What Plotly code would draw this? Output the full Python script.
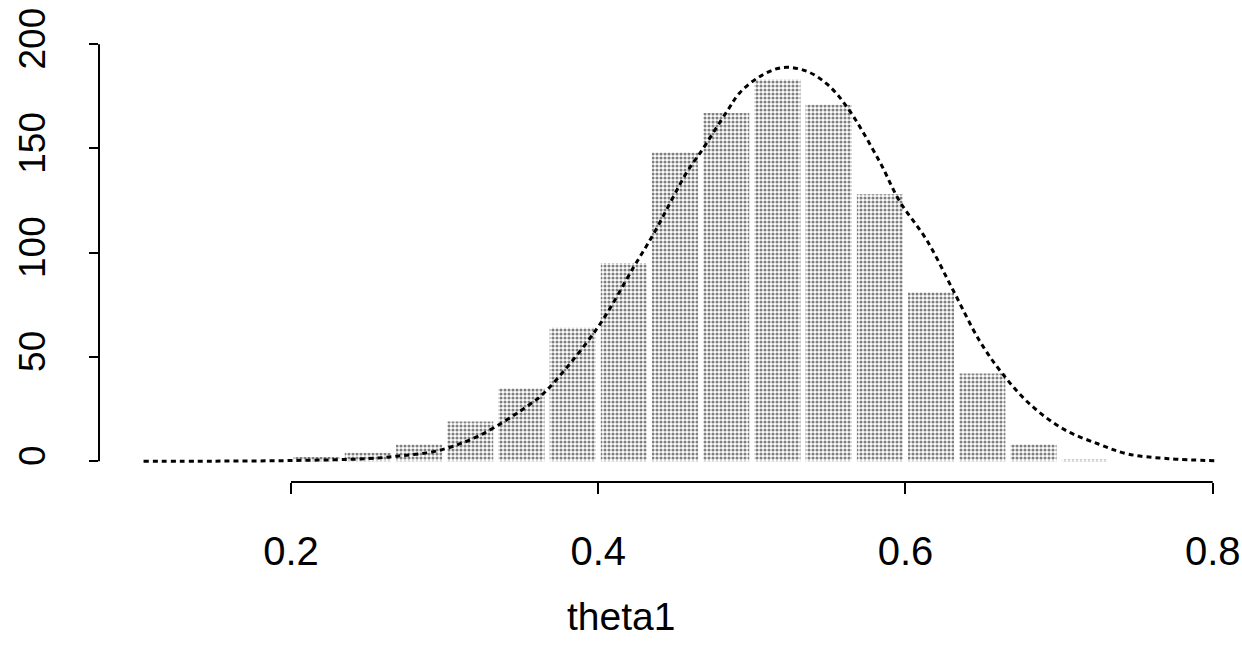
import plotly.graph_objects as go

# ---- data ----
bin_edges = [0.2, 0.2333, 0.2667, 0.3, 0.3333, 0.3667, 0.4, 0.4333, 0.4667,
             0.5, 0.5333, 0.5667, 0.6, 0.6333, 0.6667, 0.7, 0.7333]
counts = [2, 4, 8, 19, 35, 64, 95, 148, 167, 183, 171, 128, 81, 42, 8, 1]

curve_x = [0.104, 0.15, 0.2, 0.25, 0.269, 0.295, 0.323, 0.356, 0.365, 0.399,
           0.423, 0.436, 0.458, 0.4665, 0.484, 0.492, 0.505, 0.52, 0.5357,
           0.549, 0.562, 0.583, 0.596, 0.614, 0.631, 0.648, 0.662, 0.680,
           0.7025, 0.726, 0.745, 0.771, 0.803]
curve_y = [0, 0, 0.3, 1.2, 2.4, 4.9, 12.4, 27.5, 32.9, 63.4,
           93, 109, 139, 148, 168, 176.6, 184.4, 188.8, 187,
           180.8, 169.8, 143.9, 124.9, 105.8, 82, 58, 43, 28,
           15.5, 8.1, 3.4, 1.2, 0.2]

x_ticks = [0.2, 0.4, 0.6, 0.8]
y_ticks = [0, 50, 100, 150, 200]
x_title = "theta1"

# ---- figure ----
centers = [(a + b) / 2 for a, b in zip(bin_edges[:-1], bin_edges[1:])]
widths = [(b - a) * 0.9 for a, b in zip(bin_edges[:-1], bin_edges[1:])]

fig = go.Figure()
fig.add_trace(go.Bar(
    x=centers, y=counts, width=widths,
    marker=dict(color="white", line=dict(width=0),
                pattern=dict(shape=".", fgcolor="#000000", bgcolor="white",
                             size=4, solidity=0.47)),
    showlegend=False, hoverinfo="skip",
))
fig.add_trace(go.Scatter(
    x=curve_x, y=curve_y, mode="lines",
    line=dict(color="black", width=3, dash="5px,4px", shape="spline"),
    showlegend=False, hoverinfo="skip",
))

family = "Liberation Sans, Arial, Helvetica, sans-serif"

# R-style axis lines spanning only the tick range
fig.add_shape(type="line", xref="x", yref="paper",
              x0=min(x_ticks), x1=max(x_ticks), y0=0, y1=0,
              line=dict(color="black", width=2))
fig.add_shape(type="line", xref="paper", yref="y",
              x0=0, x1=0, y0=min(y_ticks), y1=max(y_ticks),
              line=dict(color="black", width=2))

fig.add_annotation(text=x_title, xref="paper", yref="paper",
                   x=0.4636, y=-0.305, xanchor="center", yanchor="middle",
                   showarrow=False, font=dict(family=family, size=39, color="black"))

fig.update_layout(
    width=1242, height=658,
    margin=dict(l=99, r=17, t=40, b=176, autoexpand=False),
    paper_bgcolor="white", plot_bgcolor="white",
    font=dict(family=family, size=38, color="black"),
    xaxis=dict(range=[0.075, 0.808], tickvals=x_ticks,
               ticktext=[f"{v:.1f}" for v in x_ticks],
               ticks="outside", ticklen=11, tickwidth=2, tickcolor="black",
               showline=False, showgrid=False, zeroline=False,
               automargin=False, ticklabelstandoff=23, ticklabeloverflow="allow",
               tickfont=dict(family=family, size=40, color="black")),
    yaxis=dict(range=[-10, 202], tickvals=y_ticks,
               ticks="outside", ticklen=9, tickwidth=2, tickcolor="black",
               tickangle=-90, showline=False, showgrid=False, zeroline=False,
               automargin=False, ticklabelstandoff=29, ticklabeloverflow="allow",
               tickfont=dict(family=family, size=37, color="black")),
)

# remove the browser's default 8px body margin so the figure fills the window
fig.write_html("out.html",
               config={"displayModeBar": False},
               post_script="document.body.style.margin='0';"
                           "document.body.style.overflow='hidden';")
